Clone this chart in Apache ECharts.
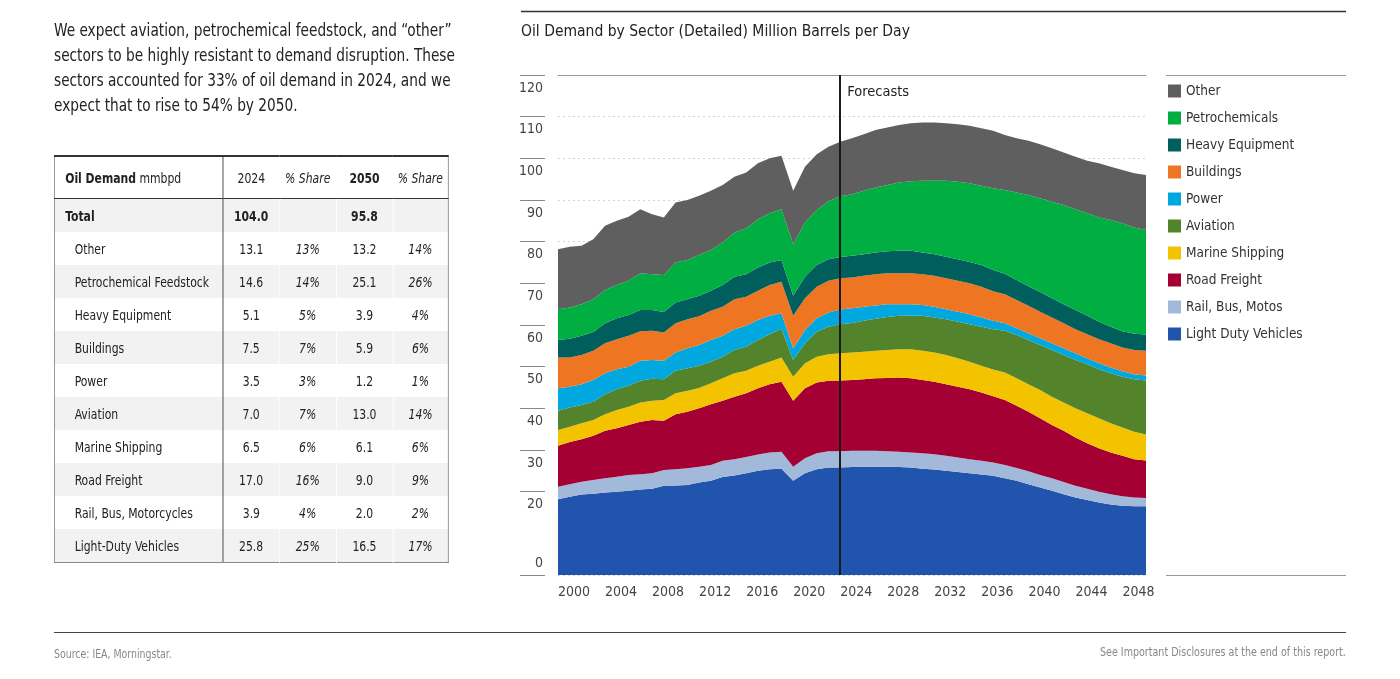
<!DOCTYPE html>
<html>
<head>
<meta charset="utf-8" />
<title>Oil Demand by Sector</title>
<script src="https://cdn.jsdelivr.net/npm/echarts@6/dist/echarts.min.js"></script>
<style>
  html, body { margin: 0; padding: 0; background: #fff; }
  body { width: 1400px; height: 679px; position: relative; overflow: hidden;
         font-family: "Liberation Sans Narrow", "DejaVu Sans Condensed", "Roboto", sans-serif; color: #222; }
  #chart { position: absolute; left: 0; top: 0; width: 1400px; height: 679px; z-index: 0; }
  #intro { position: absolute; left: 54px; top: 18px; white-space: nowrap; font-size: 17.5px; line-height: 25px;
           z-index: 1; transform: scaleX(0.87); transform-origin: 0 0; }
  #tbl { position: absolute; left: 54px; top: 155px; border-collapse: collapse; font-size: 14px; z-index: 1;
         border: 1px solid #888; border-top: 2px solid #333; white-space: nowrap;
         transform: scaleX(0.86); transform-origin: 0 0; }
  #tbl td { padding: 0; height: 33px; text-align: center; }
  #tbl tr.head td { height: 41px; border-bottom: 1px solid #333; }
  #tbl td.name { text-align: left; padding-left: 23px; border-right: 1px solid #333; }
  #tbl tr.total td.name, #tbl tr.head td.name { padding-left: 12px; }
  #tbl tr.shade td { background: #f2f2f2; }
  #tbl tr.shade td + td { border-left: 1px solid #fff; }
  #tbl td.it { font-style: italic; }
  #tbl b { font-weight: bold; }
  #foot { position: absolute; left: 54px; top: 632px; width: 1292px; border-top: 1px solid #444; z-index: 1;
          font-size: 12px; color: #888; }
  #foot .l { position: absolute; left: 0; top: 14px; white-space: nowrap; transform: scaleX(0.87); transform-origin: 0 0; }
  #foot .r { position: absolute; right: 0; top: 12px; white-space: nowrap; transform: scaleX(0.885); transform-origin: 100% 0; }
</style>
</head>
<body>
<div id="chart"></div>
<div id="intro">We expect aviation, petrochemical feedstock, and “other”<br>sectors to be highly resistant to demand disruption. These<br>sectors accounted for 33% of oil demand in 2024, and we<br>expect that to rise to 54% by 2050.</div>
<table id="tbl"><tbody id="tbody"></tbody></table>
<div id="foot"><span class="l">Source: IEA, Morningstar.</span><span class="r">See Important Disclosures at the end of this report.</span></div>

<script type="text/javascript">
    // chart data, million barrels per day
    const years = ['2000','2001','2002','2003','2004','2005','2006','2007','2008','2009',
        '2010','2011','2012','2013','2014','2015','2016','2017','2018','2019',
        '2020','2021','2022','2023','2024','2025','2026','2027','2028','2029',
        '2030','2031','2032','2033','2034','2035','2036','2037','2038','2039',
        '2040','2041','2042','2043','2044','2045','2046','2047','2048','2049','2050'];

    const lightDuty = [18.2,18.8,19.3,19.5,19.8,20.0,20.2,20.5,20.7,21.4,21.5,21.6,22.2,22.6,23.5,23.9,24.4,25.0,25.4,25.5,
        22.6,24.4,25.4,25.8,25.8,25.9,26.0,26.0,26.0,25.9,25.8,25.5,25.3,25.0,24.7,24.4,24.1,23.8,23.2,22.6,
        21.8,21.0,20.2,19.4,18.6,18.0,17.4,16.9,16.6,16.5,16.5];
    const railBus = [3.0,3.0,3.1,3.3,3.4,3.6,3.8,3.7,3.7,3.8,3.9,4.0,3.8,3.8,3.9,3.9,3.9,3.9,4.0,4.1,
        3.4,3.6,3.8,3.9,3.9,3.9,3.8,3.8,3.7,3.7,3.6,3.7,3.7,3.6,3.5,3.4,3.3,3.2,3.2,3.1,
        3.1,3.0,3.0,2.9,2.8,2.7,2.6,2.5,2.3,2.1,2.0];
    const roadFreight = [9.8,10.1,10.2,10.6,11.4,11.6,12.0,12.6,12.8,11.8,13.2,13.6,14.0,14.6,14.4,15.0,15.3,15.9,16.4,16.8,
        15.8,16.8,17.0,16.9,17.0,17.0,17.2,17.4,17.6,17.8,17.8,17.6,17.4,17.2,17.0,16.8,16.4,15.9,15.6,14.9,
        14.3,13.6,12.8,12.3,11.6,10.9,10.4,10.0,9.7,9.2,9.0];
    const marine = [3.8,3.7,3.8,3.8,4.0,4.4,4.4,4.6,4.6,5.0,5.0,5.0,4.9,5.0,5.4,5.6,5.4,5.4,5.4,5.8,
        5.8,6.0,6.2,6.4,6.5,6.6,6.6,6.6,6.7,6.8,7.0,7.0,7.0,7.0,6.8,6.6,6.4,6.4,6.6,6.6,
        6.6,6.8,6.8,6.8,7.0,7.2,7.2,7.0,6.8,6.6,6.2];
    const aviation = [4.6,4.6,4.4,4.4,4.8,5.0,5.0,5.2,5.3,5.0,5.4,5.4,5.3,5.2,5.2,5.6,5.8,6.2,6.6,6.9,
        4.0,4.8,6.0,6.6,7.0,7.1,7.4,7.7,7.9,8.0,8.0,8.4,8.4,8.6,8.8,9.0,9.4,9.7,10.0,10.4,
        10.6,10.8,11.2,11.4,11.6,11.8,11.8,12.0,12.2,12.6,13.0];
    const power = [5.4,5.0,5.0,5.2,5.0,4.8,4.6,4.8,4.5,4.4,4.4,4.8,5.0,5.2,5.0,5.0,5.0,4.8,4.4,3.7,
        2.8,3.2,3.2,3.4,3.5,3.5,3.4,3.2,3.1,2.8,2.8,2.6,2.6,2.4,2.4,2.4,2.2,2.0,1.8,1.6,
        1.6,1.6,1.6,1.6,1.6,1.4,1.4,1.4,1.3,1.2,1.2];
    const buildings = [7.4,7.0,7.0,7.0,7.2,7.2,7.4,7.1,7.0,6.8,7.0,7.0,6.9,7.0,7.0,7.2,7.0,7.0,7.4,7.6,
        7.8,7.6,7.6,7.6,7.5,7.4,7.4,7.5,7.4,7.4,7.4,7.4,7.4,7.4,7.4,7.4,7.4,7.1,7.0,6.8,
        6.6,6.4,6.2,6.0,5.8,5.8,5.8,5.8,5.7,5.8,5.9];
    const heavyEquip = [4.2,4.5,4.6,4.5,4.8,5.0,5.0,5.1,5.0,4.9,5.0,4.8,4.9,4.8,5.2,5.4,5.4,5.6,5.4,5.2,
        4.8,5.2,5.2,5.2,5.1,5.2,5.2,5.2,5.3,5.4,5.4,5.2,5.2,5.2,5.2,5.1,5.2,5.1,4.9,4.8,
        4.7,4.7,4.6,4.6,4.6,4.4,4.2,4.0,3.9,3.9,3.9];
    const petrochem = [7.4,7.5,7.6,7.9,8.0,8.0,8.2,8.8,8.6,8.9,9.6,9.4,9.8,9.8,10.2,10.6,11.0,11.6,11.8,12.2,
        12.4,13.0,13.2,13.9,14.6,14.8,15.2,15.6,15.9,16.4,16.7,17.2,17.6,18.2,18.6,18.9,19.0,19.6,20.1,21.0,
        21.9,22.5,23.2,23.8,24.2,24.6,25.0,25.6,25.9,25.5,25.1];
    const other = [14.4,14.6,14.0,14.4,15.4,15.4,15.4,15.4,14.4,13.8,14.4,14.4,14.2,14.2,13.8,13.4,13.4,13.4,13.2,12.8,
        12.8,13.4,13.4,13.1,13.1,13.4,13.6,13.8,13.8,13.8,13.9,14.0,14.0,13.8,13.8,13.8,13.8,13.8,13.2,13.0,
        13.0,13.0,12.8,12.6,12.6,12.6,13.0,12.8,12.8,13.0,13.2];

    const forecastStart = '2024';
    const yTickValues = [0, 20, 30, 40, 50, 60, 70, 80, 90, 100, 110, 120];

    // table data
    const tableRows = ['Other', 'Petrochemical Feedstock', 'Heavy Equipment', 'Buildings', 'Power',
        'Aviation', 'Marine Shipping', 'Road Freight', 'Rail, Bus, Motorcycles', 'Light-Duty Vehicles'];
    const demand2024 = ['13.1','14.6','5.1','7.5','3.5','7.0','6.5','17.0','3.9','25.8'];
    const share2024 = ['13%','14%','5%','7%','3%','7%','6%','16%','4%','25%'];
    const demand2050 = ['13.2','25.1','3.9','5.9','1.2','13.0','6.1','9.0','2.0','16.5'];
    const share2050 = ['14%','26%','4%','6%','1%','14%','6%','9%','2%','17%'];
    const total2024 = '104.0';
    const total2050 = '95.8';

    const FONT = '"Liberation Sans Narrow", "DejaVu Sans Condensed", Roboto, sans-serif';

    function buildTable() {
        // widths are pre-scale (table is squeezed by scaleX 0.86)
        var html = '<tr class="head"><td class="name" style="width:183px"><b>Oil Demand</b> mmbpd</td>' +
            '<td style="width:65px">2024</td><td class="it" style="width:66px">% Share</td>' +
            '<td style="width:66px"><b>2050</b></td><td class="it" style="width:64px">% Share</td></tr>';
        html += '<tr class="total shade"><td class="name"><b>Total</b></td><td><b>' + total2024 +
            '</b></td><td></td><td><b>' + total2050 + '</b></td><td></td></tr>';
        tableRows.forEach(function (name, i) {
            html += '<tr' + (i % 2 === 1 ? ' class="shade"' : '') + '><td class="name">' + name + '</td><td>' +
                demand2024[i] + '</td><td class="it">' + share2024[i] + '</td><td>' + demand2050[i] +
                '</td><td class="it">' + share2050[i] + '</td></tr>';
        });
        document.getElementById('tbody').innerHTML = html;
    }
    buildTable();

    // bottom to top
    const sectors = [
        { name: 'Light Duty Vehicles', data: lightDuty, color: '#2054ad' },
        { name: 'Rail, Bus, Motos', data: railBus, color: '#a3b9da' },
        { name: 'Road Freight', data: roadFreight, color: '#a50034' },
        { name: 'Marine Shipping', data: marine, color: '#f4c300' },
        { name: 'Aviation', data: aviation, color: '#53832a' },
        { name: 'Power', data: power, color: '#00a8df' },
        { name: 'Buildings', data: buildings, color: '#ee7623' },
        { name: 'Heavy Equipment', data: heavyEquip, color: '#005f5d' },
        { name: 'Petrochemicals', data: petrochem, color: '#00ae42' },
        { name: 'Other', data: other, color: '#5f5f5f' }
    ];

    var series = sectors.map(function (s) {
        return {
            name: s.name,
            type: 'line',
            stack: 'total',
            data: s.data,
            color: s.color,
            symbol: 'none',
            lineStyle: { width: 0 },
            areaStyle: { color: s.color, opacity: 1 },
            emphasis: { disabled: true },
            silent: true
        };
    });

    // forecast marker on the top series so it draws over every area
    series[series.length - 1].markLine = {
        silent: true,
        symbol: 'none',
        label: { show: false },
        lineStyle: { color: '#1a1a1a', width: 2, type: 'solid' },
        data: [{ xAxis: forecastStart }]
    };
    series[series.length - 1].markPoint = {
        silent: true,
        symbol: 'circle',
        symbolSize: 0,
        label: { show: true, position: 'right', distance: 7, formatter: 'Forecasts',
                 color: '#222', fontSize: 14.5, fontFamily: FONT },
        data: [{ coord: [forecastStart, 115.9] }]
    };

    var chart = echarts.init(document.getElementById('chart'), null, { renderer: 'canvas' });

    var option = {
        animation: false,
        textStyle: { fontFamily: FONT },
        title: {
            text: 'Oil Demand by Sector (Detailed) Million Barrels per Day',
            left: 521, top: 24, padding: 0,
            textStyle: { fontSize: 15.5, fontWeight: 'normal', color: '#222', fontFamily: FONT }
        },
        legend: {
            orient: 'vertical',
            left: 1168, top: 84, padding: 0,
            icon: 'rect',
            itemWidth: 13, itemHeight: 13, itemGap: 13,
            selectedMode: false,
            textStyle: { fontSize: 13.5, color: '#333', lineHeight: 14, fontFamily: FONT },
            data: sectors.map(function (s) { return s.name; }).reverse()
        },
        grid: { left: 558, top: 75, width: 588, height: 500, containLabel: false },
        xAxis: [{
            type: 'category',
            data: years,
            boundaryGap: false,
            axisLine: { show: false },
            axisTick: { show: false },
            axisLabel: { interval: 3, align: 'left', margin: 10, color: '#444', fontSize: 14, fontFamily: FONT }
        }, {
            // top border at 120
            type: 'category',
            data: years,
            position: 'top',
            boundaryGap: false,
            axisLine: { show: true, lineStyle: { color: '#999', width: 1 } },
            axisTick: { show: false },
            axisLabel: { show: false }
        }],
        yAxis: {
            type: 'value',
            min: 0, max: 120, interval: 10,
            offset: 13,
            axisLine: { show: false },
            axisTick: { show: true, length: 25, customValues: yTickValues, lineStyle: { color: '#888', width: 1 } },
            splitLine: { show: true, lineStyle: { color: '#d4d4d4', type: [2, 3], width: 1 } },
            axisLabel: {
                customValues: yTickValues,
                showMaxLabel: true,
                showMinLabel: true,
                hideOverlap: false,
                margin: 2,
                color: '#444',
                fontSize: 14,
                fontFamily: FONT,
                formatter: function (v) { return v === 0 ? '{z|0}' : '{a|' + v + '}'; },
                rich: {
                    a: { padding: [26, 0, 0, 0], lineHeight: 14, fontSize: 14, color: '#444', fontFamily: FONT },
                    z: { padding: [0, 0, 24, 0], lineHeight: 14, fontSize: 14, color: '#444', fontFamily: FONT }
                }
            }
        },
        graphic: [
            { type: 'line', shape: { x1: 521, y1: 11.5, x2: 1346, y2: 11.5 }, style: { stroke: '#333', lineWidth: 1.5 }, silent: true },
            { type: 'line', shape: { x1: 1166, y1: 75.5, x2: 1346, y2: 75.5 }, style: { stroke: '#999', lineWidth: 1 }, silent: true },
            { type: 'line', shape: { x1: 1166, y1: 575.5, x2: 1346, y2: 575.5 }, style: { stroke: '#999', lineWidth: 1 }, silent: true }
        ],
        series: series
    };

    chart.setOption(option);
</script>
</body>
</html>
